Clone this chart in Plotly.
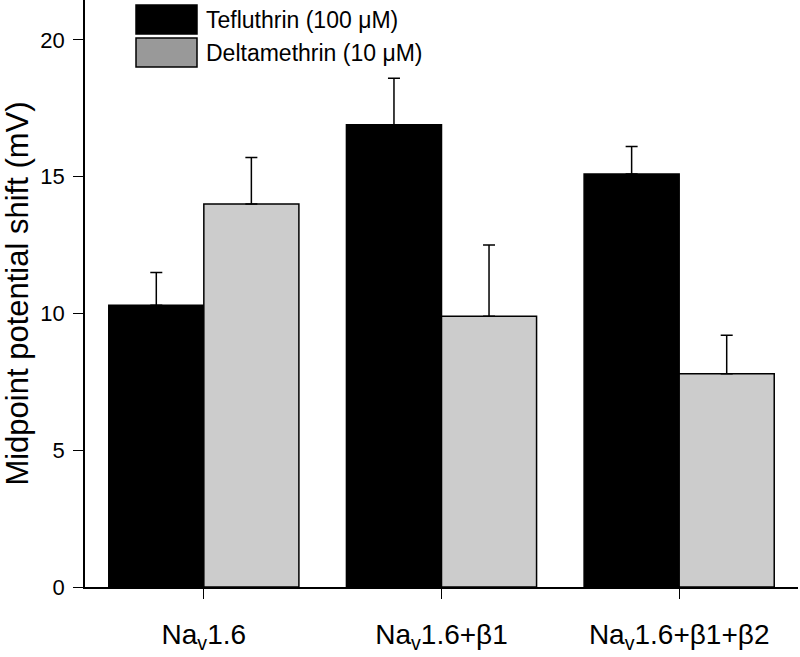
import plotly.graph_objects as go

categories = ["Na<sub>v</sub>1.6", "Na<sub>v</sub>1.6+β1", "Na<sub>v</sub>1.6+β1+β2"]
tefluthrin = [10.3, 16.9, 15.1]
tefluthrin_err = [1.2, 1.7, 1.0]
deltamethrin = [14.0, 9.9, 7.8]
deltamethrin_err = [1.7, 2.6, 1.4]
series_names = ["Tefluthrin (100 μM)", "Deltamethrin (10 μM)"]
y_ticks = [0, 5, 10, 15, 20]

W, H = 800, 657
L, R, T, B = 85, 2, 0, 70
pw, ph = W - L - R, H - T - B

def px_x(p):
    return (p - L) / pw

def px_y(p):
    return (H - B - p) / ph

font = "Liberation Sans, Arial, Helvetica, sans-serif"

fig = go.Figure()
fig.add_trace(go.Bar(
    x=categories, y=tefluthrin, name=series_names[0],
    marker=dict(color="#000000", line=dict(color="#000000", width=1.5)),
    error_y=dict(type="data", array=tefluthrin_err, symmetric=False,
                 arrayminus=[0, 0, 0], color="#000000", thickness=1.5, width=6),
    showlegend=False,
))
fig.add_trace(go.Bar(
    x=categories, y=deltamethrin, name=series_names[1],
    marker=dict(color="#cccccc", line=dict(color="#000000", width=1.5)),
    error_y=dict(type="data", array=deltamethrin_err, symmetric=False,
                 arrayminus=[0, 0, 0], color="#000000", thickness=1.5, width=6),
    showlegend=False,
))

# manual legend (large swatches)
sw_fill = ["#000000", "#999999"]
sw_top = [5, 38]
for i in range(2):
    fig.add_shape(type="rect", xref="paper", yref="paper",
                  x0=px_x(136), x1=px_x(197), y0=px_y(sw_top[i] + 29), y1=px_y(sw_top[i]),
                  fillcolor=sw_fill[i], line=dict(color="#000000", width=1.5))
    fig.add_annotation(xref="paper", yref="paper", x=px_x(204), y=px_y(sw_top[i] + 15),
                       text=series_names[i], showarrow=False, xanchor="left", yanchor="middle",
                       font=dict(family=font, size=23, color="#000000"))

fig.update_layout(
    width=W, height=H,
    margin=dict(l=L, r=R, t=T, b=B),
    paper_bgcolor="white", plot_bgcolor="white",
    barmode="group", bargap=0.2, bargroupgap=0,
    font=dict(family=font, color="#000000"),
    xaxis=dict(
        range=[-0.5, 2.5], showline=True, linecolor="#000000", linewidth=1.5,
        ticks="outside", ticklen=10, tickwidth=1, tickcolor="#000000",
        tickfont=dict(size=28), ticklabelstandoff=12,
        showgrid=False, zeroline=False, automargin=False,
    ),
    yaxis=dict(
        range=[0, 21.46], tickvals=y_ticks, showline=True, linecolor="#000000", linewidth=1.5,
        ticks="outside", ticklen=10, tickwidth=1, tickcolor="#000000",
        tickfont=dict(size=22), ticklabelstandoff=4,
        showgrid=False, zeroline=False, automargin=False,
        title=dict(text="Midpoint potential shift (mV)", font=dict(size=31), standoff=8),
    ),
)

fig.write_html("out.html", config={"displayModeBar": False},
               post_script="document.body.style.margin='0px';")
